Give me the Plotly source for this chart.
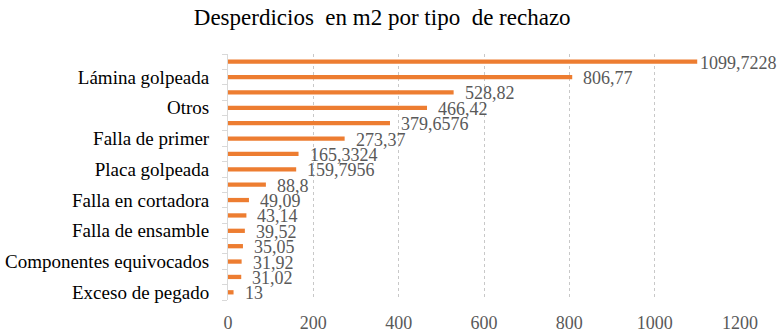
import plotly.graph_objects as go

title = "Desperdicios  en m2 por tipo  de rechazo"
# category names (top to bottom); unlabeled categories in the reference are left blank
categories = ["", "Lámina golpeada", "", "Otros", "", "Falla de primer", "", "Placa golpeada",
              "", "Falla en cortadora", "", "Falla de ensamble", "", "Componentes equivocados",
              "", "Exceso de pegado"]
values = [1099.7228, 806.77, 528.82, 466.42, 379.6576, 273.37, 165.3324, 159.7956,
          88.8, 49.09, 43.14, 39.52, 35.05, 31.92, 31.02, 13]
x_ticks = [0, 200, 400, 600, 800, 1000, 1200]

SERIF = "Liberation Serif"

pos = list(range(len(values)))
labels_txt = [repr(v).replace(".", ",") for v in values]

fig = go.Figure()
fig.add_trace(go.Bar(
    x=values, y=pos, orientation="h",
    marker=dict(color="#ED7D31", line=dict(width=0)),
    width=0.28, hoverinfo="x",
))

for v, p, t in zip(values, pos, labels_txt):
    fig.add_annotation(x=v, y=p, text=t, showarrow=False, xanchor="left",
                       xshift=1 if v == max(values) else 9, yshift=-1,
                       font=dict(family=SERIF, size=18, color="#595959"))

shown = [i for i, c in enumerate(categories) if c]
fig.update_layout(
    width=780, height=336,
    margin=dict(l=228, r=40, t=54, b=36),
    paper_bgcolor="white", plot_bgcolor="white",
    showlegend=False,
    title=dict(text=title, x=0.49, xanchor="center", y=0.95, yanchor="middle",
               font=dict(family=SERIF, size=23, color="#000000")),
    font=dict(family=SERIF),
)
fig.update_xaxes(range=[0, 1200], tickvals=x_ticks, showgrid=True, automargin=False,
                 gridcolor="#C8C8C8", griddash="dot", gridwidth=1,
                 zeroline=False, showline=False, ticks="", ticklabelstandoff=10,
                 tickfont=dict(family=SERIF, size=18, color="#595959"))
fig.update_yaxes(range=[len(values) - 0.5, -0.5], tickvals=shown, automargin=False,
                 ticktext=[categories[i] for i in shown],
                 showgrid=False, zeroline=False, showline=True, linecolor="#D9D9D9",
                 linewidth=1, ticks="", ticklabelstandoff=14,
                 minor=dict(tickvals=[i + 0.5 for i in range(-1, len(values))],
                            ticks="outside", ticklen=5, tickcolor="#D9D9D9", showgrid=False),
                 tickfont=dict(family=SERIF, size=19, color="#000000"))

fig.write_html("out.html", config={"displayModeBar": False},
               post_script="document.body.style.margin='0';")
